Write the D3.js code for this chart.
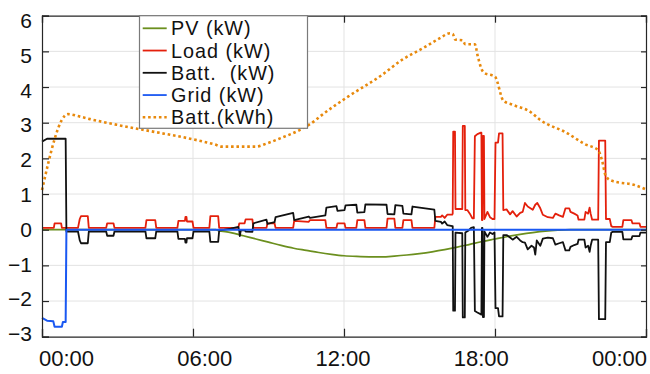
<!DOCTYPE html>
<html><head><meta charset="utf-8">
<script src="https://cdn.jsdelivr.net/npm/d3@7"></script>
<style>
html,body{margin:0;padding:0;background:#fff;}
svg{display:block;font-family:"Liberation Sans",Arial,sans-serif;}
</style></head><body>
<svg id="chart" width="650" height="374"></svg>
<script>
// Axis ticks and labels
const hourTicks = [0, 6, 12, 18, 24];
const hourLabels = ["00:00", "06:00", "12:00", "18:00", "00:00"];
const valueTicks = [-3, -2, -1, 0, 1, 2, 3, 4, 5, 6];
const seriesNames = ["PV (kW)", "Load (kW)", "Batt.\u00a0 (kW)", "Grid (kW)", "Batt.(kWh)"];

// Series as [hour of day, value]
const pvKw = [[0,0],[6.9,0],[7,-0.02],[7.5,-0.08],[8,-0.17],[8.5,-0.26],[9,-0.35],[9.5,-0.44],[10,-0.52],
  [10.5,-0.58],[11,-0.64],[11.5,-0.69],[12,-0.73],[12.5,-0.75],[13,-0.76],[13.5,-0.76],[14,-0.74],
  [14.5,-0.71],[15,-0.67],[15.5,-0.62],[16,-0.56],[16.5,-0.49],[17,-0.41],[17.5,-0.33],[18,-0.26],
  [18.5,-0.19],[19,-0.13],[19.5,-0.08],[20,-0.04],[20.5,-0.015],[21,0],[24,0]];

const loadKw = [[0,0.05],[0.47,0.05],[0.5,0.18],[0.76,0.18],[0.79,0.05],
  [1.43,0.05],[1.5,0.3],[1.55,0.38],[1.82,0.38],[1.86,0.05],
  [2.55,0.05],[2.59,0.18],[2.84,0.18],[2.88,0.05],
  [4.11,0.05],[4.15,0.27],[4.5,0.27],[4.54,0.05],
  [5.38,0.05],[5.42,0.25],[5.68,0.25],[5.7,0.36],[5.74,0.36],[5.76,0.23],[5.98,0.23],[6.02,0.05],
  [6.65,0.05],[6.69,0.38],[7.0,0.38],[7.04,0.05],
  [7.8,0.05],[7.84,0.18],[8.05,0.18],[8.09,0.29],[8.36,0.29],[8.4,0.05],
  [8.92,0.05],[8.96,0.18],[9.24,0.18],[9.28,0.05],
  [9.98,0.05],[10.02,0.25],[10.6,0.22],[10.65,0.27],[11.26,0.27],[11.3,0.05],
  [11.7,0.05],[11.74,0.18],[12.02,0.18],[12.06,0.05],
  [12.49,0.05],[12.53,0.27],[12.81,0.27],[12.85,0.05],
  [13.69,0.05],[13.73,0.31],[14.0,0.31],[14.04,0.05],
  [14.32,0.05],[14.36,0.27],[14.68,0.27],[14.72,0.05],
  [15.59,0.05],[15.63,0.36],[15.85,0.36],[15.9,0.4],[16.0,0.33],[16.1,0.42],[16.3,0.42],
  [16.32,0.45],[16.34,2.75],[16.41,2.75],[16.43,0.58],[16.7,0.58],
  [16.72,2.91],[16.8,2.91],[16.82,0.55],[16.9,0.55],[17.0,0.45],[17.1,0.32],[17.16,0.32],
  [17.2,2.62],[17.3,2.68],[17.44,2.72],[17.46,2.72],[17.48,0.27],[17.5,0.27],
  [17.52,2.63],[17.56,2.63],[17.58,0.3],[17.7,0.5],[17.8,0.35],[17.9,0.3],[17.98,0.3],
  [18.02,2.44],[18.12,2.44],[18.16,2.7],[18.3,2.7],[18.33,0.55],
  [18.46,0.57],[18.6,0.43],[18.7,0.52],[18.86,0.37],[19.0,0.47],[19.1,0.5],[19.19,0.75],[19.3,0.65],
  [19.5,0.56],[19.6,0.7],[19.68,0.75],[19.8,0.6],[19.9,0.42],[20.1,0.35],[20.3,0.33],[20.4,0.45],
  [20.55,0.4],[20.7,0.36],[20.8,0.6],[20.95,0.6],[21.0,0.5],[21.15,0.45],[21.28,0.4],[21.32,0.28],
  [21.55,0.28],[21.6,0.5],[21.7,0.45],[21.76,0.62],[21.8,0.45],[21.86,0.28],[22.1,0.28],
  [22.13,2.5],[22.38,2.5],[22.41,0.3],[22.56,0.3],[22.62,0.1],[22.68,0.08],[23.06,0.08],
  [23.1,0.27],[23.42,0.27],[23.46,0.18],[23.74,0.18],[23.78,0.08],[24,0.08]];

const battKw = [[0,2.47],[0.2,2.55],[0.94,2.55],[0.97,-0.05],
  [1.43,-0.05],[1.5,-0.3],[1.55,-0.38],[1.82,-0.38],[1.86,-0.05],
  [2.55,-0.05],[2.59,-0.17],[2.84,-0.17],[2.88,-0.05],
  [4.11,-0.05],[4.15,-0.24],[4.5,-0.24],[4.54,-0.05],
  [5.38,-0.05],[5.42,-0.26],[5.68,-0.26],[5.7,-0.36],[5.74,-0.36],[5.76,-0.24],[5.98,-0.24],[6.02,-0.05],
  [6.65,-0.05],[6.69,-0.34],[7.0,-0.34],[7.04,-0.025],
  [7.5,0.03],[7.8,0.08],[7.84,-0.04],[7.86,-0.18],[7.9,-0.02],[8.05,-0.01],[8.09,-0.05],[8.36,-0.06],
  [8.4,0.18],[8.92,0.28],[8.96,0.16],[9.24,0.21],[9.28,0.35],[9.98,0.47],
  [10.02,0.27],[10.6,0.37],[10.65,0.33],[11.26,0.4],[11.3,0.62],[11.7,0.66],
  [11.74,0.53],[12.02,0.55],[12.06,0.68],[12.49,0.7],[12.53,0.48],[12.81,0.49],
  [12.85,0.71],[13.69,0.7],[13.73,0.44],[14.0,0.43],[14.04,0.69],[14.32,0.67],
  [14.36,0.45],[14.68,0.43],[14.72,0.65],[15.59,0.56],[15.63,0.25],[15.85,0.22],
  [15.9,0.17],[16.0,0.23],[16.1,0.13],[16.3,0.1],
  [16.32,0.1],[16.34,-2.27],[16.41,-2.27],[16.43,-0.08],[16.7,-0.1],
  [16.72,-2.46],[16.8,-2.46],[16.82,-0.08],[16.95,-0.02],[17.05,0.05],[17.16,0.07],
  [17.2,-2.28],[17.3,-2.32],[17.46,-2.38],[17.48,0.05],[17.5,0.05],
  [17.52,-2.45],[17.56,-2.45],[17.58,-0.05],[17.7,-0.2],[17.8,-0.08],[17.9,-0.12],[17.98,-0.08],
  [18.02,-2.2],[18.12,-2.2],[18.16,-2.43],[18.3,-2.43],[18.33,-0.15],
  [18.46,-0.15],[18.6,-0.22],[18.7,-0.28],[18.86,-0.2],[19.0,-0.3],[19.1,-0.35],[19.19,-0.36],
  [19.3,-0.55],[19.45,-0.45],[19.55,-0.5],[19.6,-0.7],[19.66,-0.3],[19.8,-0.45],[19.9,-0.25],
  [20.1,-0.22],[20.3,-0.24],[20.4,-0.42],[20.55,-0.38],[20.7,-0.35],[20.8,-0.58],[20.95,-0.58],
  [21.0,-0.48],[21.15,-0.43],[21.28,-0.4],[21.32,-0.28],[21.55,-0.28],[21.6,-0.5],[21.7,-0.45],
  [21.76,-0.62],[21.8,-0.45],[21.86,-0.28],[22.1,-0.28],
  [22.13,-2.51],[22.38,-2.51],[22.41,-0.35],[22.56,-0.35],[22.62,-0.08],[22.68,-0.06],[23.06,-0.06],
  [23.1,-0.27],[23.42,-0.27],[23.46,-0.18],[23.74,-0.18],[23.78,-0.08],[24,-0.08]];

const gridKw = [[0,-2.47],[0.2,-2.55],[0.45,-2.57],[0.5,-2.72],[0.79,-2.72],[0.83,-2.59],
  [0.94,-2.59],[0.97,0],[24,0]];

const battKwh = [[0,1.11],[1.03,3.24],[1.51,3.17],[1.91,3.1],[2.98,2.94],[4.41,2.75],[5.76,2.57],
  [6.4,2.47],[6.95,2.37],[7.1,2.33],[8.5,2.33],[8.94,2.42],[9.46,2.56],[10.25,2.8],[10.85,3.06],
  [11.04,3.17],[12.16,3.73],[13.51,4.34],[14.3,4.76],[15.14,5.09],[15.81,5.37],[16.21,5.51],
  [16.32,5.49],[16.42,5.33],[16.71,5.31],[16.82,5.2],[17.2,5.2],[17.32,4.85],[17.48,4.48],
  [17.57,4.4],[18.0,4.29],[18.33,3.62],[18.71,3.5],[19.39,3.31],[19.79,3.08],[20.86,2.71],
  [21.57,2.4],[22.1,2.23],[22.25,1.95],[22.41,1.49],[22.65,1.37],[23.56,1.25],[24,1.13]];

const colors = {pv: "#6b8f1e", load: "#e4200c", batt: "#111111", grid: "#1a58f2", kwh: "#e8890c"};

const plot = {left: 42, right: 646, top: 15.7, bottom: 336.7};

const svg = d3.select("#chart");
const x = d3.scaleLinear().domain([0, 24]).range([plot.left, plot.right]);
const y = d3.scaleLinear().domain([-3, 6]).range([plot.bottom, plot.top]);
// tick labels sit slightly inside the tick positions
const xLabelPos = d3.scaleLinear().domain([0, 24]).range([66, 619]);
const yLabelPos = d3.scaleLinear().domain([-3, 6]).range([333, 20]);

// grid
const grid = svg.append("g").attr("stroke", "#e3e3e3").attr("stroke-width", 1);
grid.selectAll("line.h").data(valueTicks.filter(v => v > -3 && v < 6)).join("line")
  .attr("x1", plot.left).attr("x2", plot.right)
  .attr("y1", d => y(d)).attr("y2", d => y(d));
grid.selectAll("line.v").data(hourTicks.filter(h => h > 0 && h < 24)).join("line")
  .attr("y1", plot.top).attr("y2", plot.bottom)
  .attr("x1", d => x(d)).attr("x2", d => x(d));

// series lines
const dotted = "2.6,2.8";
const line = d3.line().x(d => x(d[0])).y(d => y(d[1]));
const smooth = d3.line().x(d => x(d[0])).y(d => y(d[1])).curve(d3.curveMonotoneX);
const lines = svg.append("g").attr("fill", "none").attr("stroke-linejoin", "round");
lines.append("path").datum(pvKw).attr("d", smooth).attr("stroke", colors.pv).attr("stroke-width", 1.7);
lines.append("path").datum(loadKw).attr("d", line).attr("stroke", colors.load).attr("stroke-width", 1.8);
lines.append("path").datum(battKw).attr("d", line).attr("stroke", colors.batt).attr("stroke-width", 1.8);
lines.append("path").datum(gridKw).attr("d", line).attr("stroke", colors.grid).attr("stroke-width", 2);
lines.append("path").datum(battKwh).attr("d", smooth).attr("stroke", colors.kwh)
  .attr("stroke-width", 2.6).attr("stroke-dasharray", dotted);

// axes
const axisColor = "#262626";
const fmt = d => hourLabels[hourTicks.indexOf(d)];
const gx = svg.append("g").attr("transform", `translate(0,${plot.bottom})`)
  .call(d3.axisBottom(x).tickValues(hourTicks).tickFormat(fmt).tickSize(-8).tickPadding(0));
gx.selectAll("text").attr("x", d => xLabelPos(d) - x(d)).attr("y", 29)
  .attr("dy", 0).attr("font-size", 22).attr("fill", "#111");
const gy = svg.append("g").attr("transform", `translate(${plot.left},0)`)
  .call(d3.axisLeft(y).tickValues(valueTicks).tickSize(-7).tickPadding(10));
gy.selectAll("text").attr("y", d => yLabelPos(d) - y(d)).attr("dy", "0.36em")
  .attr("font-size", 21).attr("fill", "#111");
const gt = svg.append("g").attr("transform", `translate(0,${plot.top})`)
  .call(d3.axisTop(x).tickValues(hourTicks).tickFormat("").tickSize(-7));
const gr = svg.append("g").attr("transform", `translate(${plot.right},0)`)
  .call(d3.axisRight(y).tickValues(valueTicks).tickFormat("").tickSize(-5));
[gx, gy, gt, gr].forEach(g => {
  g.attr("font-family", null);
  g.select(".domain").attr("stroke", axisColor).attr("stroke-width", 1.2);
  g.selectAll(".tick line").attr("stroke", axisColor).attr("stroke-width", 1.2);
});

// legend
const legend = svg.append("g");
legend.append("rect").attr("x", 139.5).attr("y", plot.top).attr("width", 168).attr("height", 112.6)
  .attr("fill", "#fff").attr("stroke", "#7a7a7a").attr("stroke-width", 1.2);
const legendKeys = [colors.pv, colors.load, colors.batt, colors.grid, colors.kwh];
const rowY = i => 28.3 + i * 22.25;
legend.selectAll("line").data(legendKeys).join("line")
  .attr("x1", 142.7).attr("x2", 166.7)
  .attr("y1", (d, i) => rowY(i)).attr("y2", (d, i) => rowY(i))
  .attr("stroke", d => d)
  .attr("stroke-width", (d, i) => i === 4 ? 2.6 : 1.8)
  .attr("stroke-dasharray", (d, i) => i === 4 ? dotted : null);
legend.selectAll("text").data(seriesNames).join("text")
  .attr("x", 171).attr("y", (d, i) => rowY(i)).attr("dy", "0.36em")
  .attr("font-size", 19.8).attr("letter-spacing", 1).attr("fill", "#111").text(d => d);
</script>
</body></html>
